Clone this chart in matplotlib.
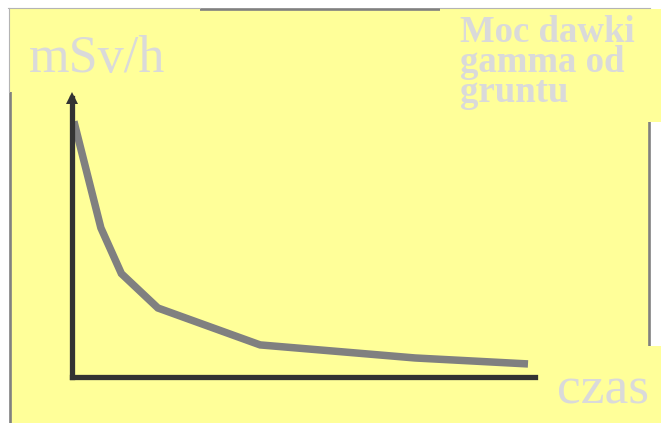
import matplotlib
matplotlib.use("Agg")
import matplotlib.pyplot as plt
from matplotlib.patches import Rectangle

# data (arbitrary units)
czas = [0.05, 0.76, 1.3, 2.26, 4.95, 9.03, 12.0]
moc = [9.0, 5.25, 3.64, 2.43, 1.13, 0.67, 0.46]
ylabel = "mSv/h"
xlabel = "czas"
title_lines = ["Moc dawki", "gamma od", "gruntu"]

W, H = 661, 423
YELLOW = "#FFFF99"
TXT = "#DADADA"
fig = plt.figure(figsize=(W / 100, H / 100), dpi=100)
fig.patch.set_facecolor("white")

# background decoration in pixel coordinates
bg = fig.add_axes([0, 0, 1, 1])
bg.set_xlim(0, W)
bg.set_ylim(H, 0)
bg.axis("off")
bg.add_patch(Rectangle((9.5, 9.5), 639, 440, facecolor=YELLOW,
                       edgecolor="#808080", lw=1.9))
for (x0, y0, w, h) in [(9, 9, 191, 83), (440, 9, 221, 113), (530, 346, 131, 80)]:
    bg.add_patch(Rectangle((x0, y0), w, h, facecolor=YELLOW, edgecolor="none"))
bg.plot([8, 200], [8.5, 8.5], color="#B4B4B4", lw=0.8)
bg.plot([440, 650], [8.5, 8.5], color="#B4B4B4", lw=0.8)
bg.plot([8.5, 8.5], [8, 92], color="#B4B4B4", lw=0.8)

serif = ["Liberation Serif", "DejaVu Serif"]
bg.text(29, 72, ylabel, fontsize=37.5, color=TXT, family=serif, va="baseline", ha="left")
bg.text(460, 102.5, "\n".join(title_lines), fontsize=26.5, color=TXT, family=serif,
        fontweight="bold", va="baseline", ha="left", linespacing=0.82)
bg.text(557, 403, xlabel, fontsize=38.5, color=TXT, family=serif, va="baseline", ha="left")

# chart axes: origin at (72, 377) px
left, right, bottom, top = 72, 535, 377, 98
ax = fig.add_axes([left / W, (H - bottom) / H, (right - left) / W, (bottom - top) / H])
ax.patch.set_alpha(0)
ax.set_xlim(0, (right - left) / 38)
ax.set_ylim(0, (bottom - top) / 28.4)
for s in ["top", "right"]:
    ax.spines[s].set_visible(False)
for s in ["left", "bottom"]:
    ax.spines[s].set_color("#333333")
    ax.spines[s].set_linewidth(3.8)
    ax.spines[s].set_capstyle("projecting")
ax.set_xticks([])
ax.set_yticks([])
ax.plot(czas, moc, color="#808080", lw=5.4, solid_capstyle="butt",
        solid_joinstyle="miter", clip_on=False)
ax.plot([0], [(bottom - top) / 28.4], marker="^", markersize=8.5, color="#333333",
        markeredgewidth=0, clip_on=False)

fig.savefig("out.png", dpi=100, facecolor="white")
